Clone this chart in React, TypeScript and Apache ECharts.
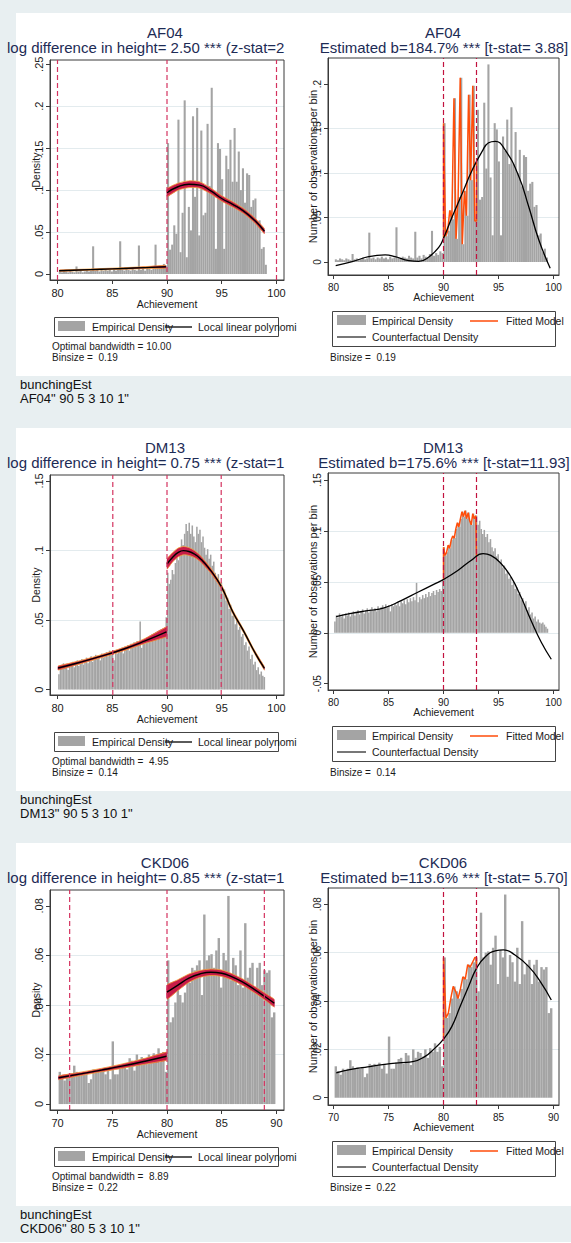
import React, { useEffect, useRef } from "react";
import * as echarts from "echarts";

// ---------------- Data ----------------
const PANEL_NAMES = ["AF04", "DM13", "CKD06"];
const LEFT_SUBTITLES = [
  "log difference in height= 2.50 *** (z-stat=2",
  "log difference in height= 0.75 *** (z-stat=1",
  "log difference in height= 0.85 *** (z-stat=1",
];
const RIGHT_SUBTITLES = [
  "Estimated b=184.7% *** [t-stat= 3.88]",
  "Estimated b=175.6% *** [t-stat=11.93]",
  "Estimated b=113.6% *** [t-stat= 5.70]",
];
const BANDWIDTH_NOTES = ["Optimal bandwidth = 10.00", "Optimal bandwidth =  4.95", "Optimal bandwidth =  8.89"];
const BINSIZE_NOTES = ["Binsize =  0.19", "Binsize =  0.14", "Binsize =  0.22"];
const COMMAND_LINES = ['AF04" 90 5 3 10 1"', 'DM13" 90 5 3 10 1"', 'CKD06" 80 5 3 10 1"'];

const X_TICKS_80 = [80, 85, 90, 95, 100];
const X_TICKS_70 = [70, 75, 80, 85, 90];
const Y_TICKS_AF04_L = [0, 0.05, 0.1, 0.15, 0.2, 0.25];
const Y_TICKS_AF04_R = [0, 0.05, 0.1, 0.15, 0.2];
const Y_TICKS_DM13_L = [0, 0.05, 0.1, 0.15];
const Y_TICKS_DM13_R = [-0.05, 0, 0.05, 0.1, 0.15];
const Y_TICKS_CKD06 = [0, 0.02, 0.04, 0.06, 0.08];

// AF04 histogram (bin width 0.19, first bin left edge 80.12)
const AF04_BIN_START = 80.12;
const AF04_BIN_WIDTH = 0.19;
const AF04_DENSITY = [
  0.003, 0.002, 0.004, 0.003, 0.002, 0.004, 0.003, 0.002, 0.009, 0.003,
  0.004, 0.002, 0.003, 0.005, 0.003, 0.004, 0.033, 0.004, 0.005, 0.003,
  0.005, 0.004, 0.006, 0.004, 0.005, 0.003, 0.006, 0.004, 0.005, 0.039,
  0.005, 0.004, 0.006, 0.005, 0.004, 0.007, 0.005, 0.004, 0.034, 0.005,
  0.007, 0.004, 0.008, 0.006, 0.005, 0.009, 0.035, 0.007, 0.010, 0.008,
  0.012, 0.010,
  0.156, 0.029, 0.035, 0.058, 0.048, 0.184, 0.026, 0.073, 0.207, 0.020,
  0.080, 0.052, 0.188, 0.092, 0.198, 0.046, 0.171, 0.070, 0.073, 0.179,
  0.105, 0.222, 0.095, 0.030, 0.156, 0.149, 0.113, 0.030, 0.141, 0.125,
  0.160, 0.110, 0.174, 0.110, 0.146, 0.100, 0.126, 0.085, 0.120, 0.118,
  0.080, 0.088, 0.090, 0.062, 0.064, 0.030, 0.032, 0.011, 0.015, 0.005,
];
// DM13 histogram (bin width 0.14, first bin left edge 80.06)
const DM13_BIN_START = 80.06;
const DM13_BIN_WIDTH = 0.14;
const DM13_DENSITY = [
  0.011, 0.017, 0.015, 0.019, 0.016, 0.018, 0.014, 0.019, 0.017, 0.020,
  0.016, 0.019, 0.021, 0.017, 0.020, 0.022, 0.018, 0.021, 0.023, 0.019,
  0.022, 0.024, 0.020, 0.023, 0.025, 0.022, 0.024, 0.021, 0.026, 0.023,
  0.025, 0.027, 0.024, 0.028, 0.025, 0.027, 0.021, 0.028, 0.026, 0.029,
  0.027, 0.030, 0.026, 0.031, 0.029, 0.032, 0.028, 0.033, 0.030, 0.034,
  0.031, 0.035, 0.032, 0.049, 0.030, 0.035, 0.033, 0.037, 0.034, 0.038,
  0.035, 0.040, 0.036, 0.039, 0.041, 0.037, 0.042, 0.040, 0.043, 0.041,
  0.052,
  0.084, 0.076, 0.079, 0.086, 0.083, 0.091, 0.095, 0.093, 0.102, 0.108,
  0.104, 0.112, 0.119, 0.114, 0.120, 0.112, 0.118, 0.110, 0.106, 0.117,
  0.112, 0.115, 0.106, 0.110, 0.102, 0.097, 0.101, 0.094, 0.097, 0.089,
  0.092, 0.084, 0.080, 0.083, 0.075, 0.077, 0.069, 0.072, 0.064, 0.066,
  0.058, 0.061, 0.053, 0.055, 0.047, 0.050, 0.043, 0.045, 0.038, 0.040,
  0.032, 0.034, 0.028, 0.031, 0.022, 0.025, 0.018, 0.020, 0.014, 0.016,
  0.011, 0.013, 0.010, 0.009, 0.010, 0.008, 0.006, 0.004,
];
// CKD06 histogram (bin width 0.22, first bin left edge 70.10)
const CKD06_BIN_START = 70.1;
const CKD06_BIN_WIDTH = 0.22;
const CKD06_DENSITY = [
  0.013, 0.011, 0.0095, 0.012, 0.011, 0.012, 0.0155, 0.013, 0.012, 0.0125,
  0.012, 0.0125, 0.0085, 0.010, 0.014, 0.0135, 0.014, 0.0135, 0.0145, 0.012,
  0.014, 0.010, 0.0253, 0.012, 0.012, 0.0145, 0.016, 0.0165, 0.014, 0.0185,
  0.0175, 0.0135, 0.020, 0.0165, 0.019, 0.0185, 0.017, 0.020, 0.0165, 0.0205,
  0.019, 0.0225, 0.019, 0.021, 0.013,
  0.058, 0.033, 0.035, 0.041, 0.046, 0.044, 0.041, 0.045, 0.050, 0.049,
  0.055, 0.054, 0.056, 0.058, 0.044, 0.0765, 0.058, 0.060, 0.0605, 0.055,
  0.062, 0.067, 0.047, 0.061, 0.058, 0.084, 0.050, 0.059, 0.056, 0.048,
  0.062, 0.047, 0.073, 0.051, 0.055, 0.057, 0.047, 0.055, 0.057, 0.048,
  0.054, 0.053, 0.054, 0.035, 0.037,
];

// Local linear fits (left panels): x, fitted value, half-width of the CI band
const AF04_FIT_LO_X = [80.15, 82, 84, 86, 88, 89.9];
const AF04_FIT_LO_Y = [0.0039, 0.0048, 0.0057, 0.0066, 0.0076, 0.0086];
const AF04_FIT_LO_HW = [0.0009, 0.0008, 0.0008, 0.0009, 0.0012, 0.0018];
const AF04_FIT_HI_X = [90, 91, 92, 93, 94, 95, 96, 97, 98, 98.9];
const AF04_FIT_HI_Y = [0.097, 0.104, 0.107, 0.106, 0.099, 0.09, 0.083, 0.075, 0.064, 0.051];
const AF04_FIT_HI_HW = [0.005, 0.0042, 0.004, 0.0038, 0.0035, 0.0033, 0.0032, 0.003, 0.003, 0.0032];

const DM13_FIT_LO_X = [80.05, 82, 84, 86, 88, 89.95];
const DM13_FIT_LO_Y = [0.0155, 0.0195, 0.024, 0.029, 0.035, 0.0415];
const DM13_FIT_LO_HW = [0.0015, 0.0012, 0.0011, 0.0012, 0.0018, 0.0036];
const DM13_FIT_HI_X = [90, 90.5, 91, 91.5, 92, 92.5, 93, 94, 95, 96, 97, 98, 98.9];
const DM13_FIT_HI_Y = [0.0903, 0.095, 0.0985, 0.0999, 0.0993, 0.0975, 0.0945, 0.0855, 0.0735, 0.056, 0.042, 0.027, 0.0152];
const DM13_FIT_HI_HW = [0.0038, 0.0034, 0.0032, 0.003, 0.0028, 0.0025, 0.0022, 0.0018, 0.0015, 0.0013, 0.0012, 0.0012, 0.0013];

const CKD06_FIT_LO_X = [70.1, 72, 74, 76, 78, 79.95];
const CKD06_FIT_LO_Y = [0.0106, 0.0121, 0.0137, 0.0154, 0.0173, 0.0193];
const CKD06_FIT_LO_HW = [0.0008, 0.0007, 0.0007, 0.0009, 0.0012, 0.0017];
const CKD06_FIT_HI_X = [80, 81, 82, 83, 84, 85, 86, 87, 88, 89, 89.8];
const CKD06_FIT_HI_Y = [0.0452, 0.048, 0.0508, 0.0525, 0.0532, 0.0528, 0.0512, 0.049, 0.0462, 0.0432, 0.0407];
const CKD06_FIT_HI_HW = [0.003, 0.0022, 0.0017, 0.0014, 0.0013, 0.0013, 0.0013, 0.0013, 0.0013, 0.0014, 0.0016];

// Counterfactual densities (right panels)
const AF04_CF_X = [80.2, 81.7, 83.2, 84.7, 85.6, 86.85, 87.75, 88.7, 89.6, 90.0, 90.8, 91.7, 92.6, 93.5, 94.1, 94.7, 95.6, 96.85, 97.75, 98.66, 99.7];
const AF04_CF_Y = [-0.004, 0.0004, 0.006, 0.0079, 0.006, 0.0015, 0.0008, 0.006, 0.017, 0.0266, 0.051, 0.077, 0.103, 0.124, 0.134, 0.1356, 0.126, 0.096, 0.062, 0.025, -0.007];
const DM13_CF_X = [80.24, 81.6, 83.1, 84.6, 86.15, 87.66, 89.2, 89.94, 91.3, 92.5, 93.6, 94.3, 95.25, 96.15, 97.06, 97.97, 98.9, 99.8];
const DM13_CF_Y = [0.0158, 0.019, 0.0217, 0.0244, 0.0316, 0.0398, 0.048, 0.052, 0.0612, 0.071, 0.0777, 0.076, 0.0678, 0.0546, 0.0348, 0.0118, -0.0096, -0.026];
const CKD06_CF_X = [70.25, 71.6, 73.1, 74.66, 76.2, 77.2, 78.3, 79.2, 79.98, 80.75, 81.5, 82.27, 83.0, 83.8, 84.7, 85.46, 86.5, 87.75, 88.8, 89.8];
const CKD06_CF_Y = [0.0103, 0.0117, 0.0128, 0.0138, 0.0145, 0.0149, 0.017, 0.0204, 0.0241, 0.0294, 0.0376, 0.0459, 0.0535, 0.0583, 0.0607, 0.0611, 0.059, 0.0542, 0.048, 0.0404];

// Bunching windows and counterfactual values at their edges
const AF04_WINDOW = [90, 93];
const AF04_WINDOW_CF = [0.0266, 0.112];
const DM13_WINDOW = [90, 93];
const DM13_WINDOW_CF = [0.052, 0.075];
const CKD06_WINDOW = [80, 83];
const CKD06_WINDOW_CF = [0.0241, 0.0535];

// Cut-off +/- bandwidth lines (left panels)
const AF04_BW_LINES = [80, 90, 100];
const DM13_BW_LINES = [85.05, 90, 94.95];
const CKD06_BW_LINES = [71.11, 80, 88.89];

// ---------------- Styles ----------------
const FONT = '"Liberation Sans", Arial, Helvetica, sans-serif';
const BAR = "#a4a4a4";
const BAND_FILL = "#c81c48";
const BAND_EDGE = "#f4a23a";
const DASH_L = "#d4325f";
const DASH_R = "#c2123e";
const ORANGE = "#ff4d0a";
const AXIS_C = "#3a3a3a";
const GRID_C = "#e3ebee";
const TITLE_C = "#1d2b55";
const TXT = "#1a1a1a";
const PAGE_BG = "#e8eff1";
const ROW_DY = 415;

const PANELS = [
  {
    binStart: AF04_BIN_START, binWidth: AF04_BIN_WIDTH, density: AF04_DENSITY, leftMaxX: 99.0,
    xTicks: X_TICKS_80, xL: [79.315, 100.685], xR: [79.5, 100.5],
    yL: [-0.00715, 0.2551], yR: [-0.0146, 0.2292], yTicksL: Y_TICKS_AF04_L, yTicksR: Y_TICKS_AF04_R, stepL: 0.05, stepR: 0.05,
    bwLines: AF04_BW_LINES, window: AF04_WINDOW, windowCf: AF04_WINDOW_CF,
    cfX: AF04_CF_X, cfY: AF04_CF_Y,
    fits: [[AF04_FIT_LO_X, AF04_FIT_LO_Y, AF04_FIT_LO_HW], [AF04_FIT_HI_X, AF04_FIT_HI_Y, AF04_FIT_HI_HW]],
  },
  {
    binStart: DM13_BIN_START, binWidth: DM13_BIN_WIDTH, density: DM13_DENSITY, leftMaxX: 98.9,
    xTicks: X_TICKS_80, xL: [79.315, 100.685], xR: [79.5, 100.5],
    yL: [-0.0039, 0.1543], yR: [-0.0562, 0.1569], yTicksL: Y_TICKS_DM13_L, yTicksR: Y_TICKS_DM13_R, stepL: 0.05, stepR: 0.05,
    bwLines: DM13_BW_LINES, window: DM13_WINDOW, windowCf: DM13_WINDOW_CF,
    cfX: DM13_CF_X, cfY: DM13_CF_Y,
    fits: [[DM13_FIT_LO_X, DM13_FIT_LO_Y, DM13_FIT_LO_HW], [DM13_FIT_HI_X, DM13_FIT_HI_Y, DM13_FIT_HI_HW]],
  },
  {
    binStart: CKD06_BIN_START, binWidth: CKD06_BIN_WIDTH, density: CKD06_DENSITY, leftMaxX: 90.0,
    xTicks: X_TICKS_70, xL: [69.315, 90.685], xR: [69.5, 90.5],
    yL: [-0.0024, 0.0864], yR: [-0.003, 0.0867], yTicksL: Y_TICKS_CKD06, yTicksR: Y_TICKS_CKD06, stepL: 0.02, stepR: 0.02,
    bwLines: CKD06_BW_LINES, window: CKD06_WINDOW, windowCf: CKD06_WINDOW_CF,
    cfX: CKD06_CF_X, cfY: CKD06_CF_Y,
    fits: [[CKD06_FIT_LO_X, CKD06_FIT_LO_Y, CKD06_FIT_LO_HW], [CKD06_FIT_HI_X, CKD06_FIT_HI_Y, CKD06_FIT_HI_HW]],
  },
];

function fmtTick(v: number): string {
  const s = String(Math.round(v * 1e6) / 1e6);
  return s.replace(/^(-?)0\./, "$1.");
}

function buildOption() {
  const grids: any[] = [];
  const xAxes: any[] = [];
  const yAxes: any[] = [];
  const series: any[] = [];
  const graphic: any[] = [];

  const txt = (x: number, y: number, text: string, size: number, color = TXT, align = "left", extra: any = {}) => ({
    type: "text", z: 50, silent: true,
    style: {
      x, y, text, fill: color, fontSize: size, fontFamily: FONT,
      textAlign: align, textVerticalAlign: "middle", align, verticalAlign: "middle", ...extra,
    },
  });
  const rect = (x: number, y: number, w: number, h: number, fill: string, stroke?: string, z = 40) => ({
    type: "rect", z, silent: true, shape: { x, y, width: w, height: h },
    style: { fill, stroke: stroke || null, lineWidth: stroke ? 1 : 0 },
  });
  const seg = (x1: number, y1: number, x2: number, y2: number, color: string, w = 1.4) => ({
    type: "line", z: 45, silent: true, shape: { x1, y1, x2, y2 }, style: { stroke: color, lineWidth: w },
  });

  const addAxes = (gi: number, p: any, side: "L" | "R") => {
    const isL = side === "L";
    const tickFont = isL ? 11 : 10;
    const xr = isL ? p.xL : p.xR;
    const yr = isL ? p.yL : p.yR;
    const yTicks = isL ? p.yTicksL : p.yTicksR;
    const step = isL ? p.stepL : p.stepR;
    xAxes.push({
      gridIndex: gi, type: "value", min: xr[0], max: xr[1], minInterval: 5, maxInterval: 5,
      axisLine: { show: true, onZero: false, lineStyle: { color: AXIS_C, width: 1 } },
      axisTick: { show: true, length: 4, customValues: p.xTicks, lineStyle: { color: AXIS_C } },
      axisLabel: { customValues: p.xTicks, fontSize: tickFont, color: TXT, margin: 7, fontFamily: FONT },
      splitLine: { show: false },
      name: "Achievement", nameLocation: "middle", nameGap: isL ? 18.5 : 16.5, nameMoveOverlap: false,
      nameTextStyle: { fontSize: 10.5, color: TXT, fontFamily: FONT },
    });
    yAxes.push({
      gridIndex: gi, type: "value", min: yr[0], max: yr[1], minInterval: step, maxInterval: step,
      axisLine: { show: true, onZero: false, lineStyle: { color: AXIS_C, width: 1 } },
      axisTick: { show: true, length: 4, customValues: yTicks, lineStyle: { color: AXIS_C } },
      axisLabel: { customValues: yTicks, rotate: 90, formatter: fmtTick, fontSize: tickFont, color: TXT, margin: 6, fontFamily: FONT },
      splitLine: { show: true, showMinLine: false, showMaxLine: false, lineStyle: { color: GRID_C, width: 1 } },
      name: isL ? "Density" : "Number of observations per bin", nameLocation: "middle", nameGap: isL ? 9 : 10,
      nameMoveOverlap: false,
      nameTextStyle: { fontSize: isL ? 10.5 : 11, color: TXT, fontFamily: FONT },
    });
  };

  const histSeries = (gi: number, p: any, maxX: number) => {
    const bw = p.binWidth;
    const data = p.density
      .map((v: number, i: number) => [p.binStart + i * bw, v])
      .filter((d: number[]) => d[0] < maxX - 1e-9);
    return {
      type: "custom", xAxisIndex: gi, yAxisIndex: gi, silent: true, z: 2,
      encode: { x: 0, y: 1 }, data,
      renderItem: (_params: any, api: any) => {
        const x0 = api.value(0);
        const h = api.value(1);
        const a = api.coord([x0, 0]);
        const b = api.coord([x0 + bw, h]);
        return {
          type: "rect",
          shape: { x: a[0], y: b[1], width: b[0] - a[0], height: a[1] - b[1] },
          style: { fill: BAR },
        };
      },
    };
  };

  // confidence band of the local linear fit, as one polygon through the axis scales
  const bandSeries = (gi: number, xs: number[], ys: number[], hw: number[]) => ({
    type: "custom", xAxisIndex: gi, yAxisIndex: gi, silent: true, z: 3,
    encode: { x: 0, y: [1, 2] },
    data: xs.map((x, i) => [x, ys[i] - hw[i], ys[i] + hw[i]]),
    renderItem: (params: any, api: any) => {
      if (params.dataIndexInside !== 0) return null;
      const n = params.dataInsideLength;
      const up: number[][] = [];
      const lo: number[][] = [];
      for (let i = 0; i < n; i++) {
        const x = api.value(0, i);
        up.push(api.coord([x, api.value(2, i)]));
        lo.push(api.coord([x, api.value(1, i)]));
      }
      const poly = up.concat(lo.slice().reverse());
      return {
        type: "group",
        children: [
          { type: "polygon", shape: { points: poly, smooth: 0.15 }, style: { fill: BAND_FILL, stroke: "none" } },
          { type: "polyline", shape: { points: up, smooth: 0.3 }, style: { fill: "none", stroke: BAND_EDGE, lineWidth: 0.8 } },
          { type: "polyline", shape: { points: lo, smooth: 0.3 }, style: { fill: "none", stroke: BAND_EDGE, lineWidth: 0.8 } },
        ],
      };
    },
  });

  const vline = (gi: number, x: number, yr: number[], color: string) => ({
    type: "line", xAxisIndex: gi, yAxisIndex: gi, silent: true, z: 6,
    data: [[x, yr[0]], [x, yr[1]]], symbol: "none",
    lineStyle: { color, width: 1.2, type: [5, 3] },
  });

  PANELS.forEach((p, r) => {
    const dy = r * ROW_DY;
    const li = 2 * r;
    const ri = 2 * r + 1;

    graphic.push(rect(16, 13 + dy, 555, 363, "#ffffff", undefined, -1));

    grids.push({ left: 50, top: 60 + dy, width: 234, height: 220, show: true, borderColor: AXIS_C, borderWidth: 1, backgroundColor: "transparent", z: 1 });
    grids.push({ left: 328, top: 58 + dy, width: 231, height: 217, show: true, borderColor: AXIS_C, borderWidth: 1, backgroundColor: "transparent", z: 1 });
    addAxes(li, p, "L");
    addAxes(ri, p, "R");

    // ---- left panel ----
    series.push(histSeries(li, p, p.leftMaxX));
    p.fits.forEach((f: number[][]) => {
      const [xs, ys, hw] = f;
      series.push(bandSeries(li, xs, ys, hw));
      series.push({
        type: "line", xAxisIndex: li, yAxisIndex: li, silent: true, z: 4, smooth: true, symbol: "none",
        data: xs.map((x, i) => [x, ys[i]]),
        lineStyle: { color: "#000000", width: 1.4 },
      });
    });
    p.bwLines.forEach((x: number) => series.push(vline(li, x, p.yL, DASH_L)));

    // ---- right panel ----
    series.push(histSeries(ri, p, 1e9));
    p.window.forEach((x: number) => series.push(vline(ri, x, p.yR, DASH_R)));
    const fitted: number[][] = [[p.window[0], p.windowCf[0]]];
    let lastH = 0;
    p.density.forEach((v: number, i: number) => {
      const x = p.binStart + i * p.binWidth;
      if (x >= p.window[0] - 1e-9 && x < p.window[1] - 1e-9) {
        fitted.push([x, v]);
        lastH = v;
      }
    });
    fitted.push([p.window[1], lastH]);
    fitted.push([p.window[1], p.windowCf[1]]);
    series.push({
      type: "line", xAxisIndex: ri, yAxisIndex: ri, silent: true, z: 4, symbol: "none",
      data: fitted, lineStyle: { color: ORANGE, width: 1.5 },
    });
    series.push({
      type: "line", xAxisIndex: ri, yAxisIndex: ri, silent: true, z: 5, symbol: "none", smooth: true,
      data: p.cfX.map((x: number, i: number) => [x, p.cfY[i]]),
      lineStyle: { color: "#000000", width: 1.3 },
    });

    // ---- titles ----
    graphic.push(txt(165, 32 + dy, PANEL_NAMES[r], 15, TITLE_C, "center"));
    graphic.push(txt(7, 47 + dy, LEFT_SUBTITLES[r], 15, TITLE_C, "left"));
    graphic.push(txt(443, 32 + dy, PANEL_NAMES[r], 15, TITLE_C, "center"));
    graphic.push(txt(444, 47 + dy, RIGHT_SUBTITLES[r], 15, TITLE_C, "center"));

    // ---- left legend & notes ----
    graphic.push(rect(54.5, 317.5 + dy, 224, 19, "#ffffff", "#444444"));
    graphic.push(rect(58, 321 + dy, 27, 10, BAR));
    graphic.push(txt(92, 327 + dy, "Empirical Density", 10.5));
    graphic.push(seg(165, 327 + dy, 192, 327 + dy, "#000000", 1.3));
    graphic.push(txt(198, 327 + dy, "Local linear polynomi", 10.5));
    graphic.push(txt(52, 351.5 + dy, BANDWIDTH_NOTES[r] + "\n" + BINSIZE_NOTES[r], 10, TXT, "left", { lineHeight: 11 }));

    // ---- right legend & notes ----
    graphic.push(rect(332.5, 311.5 + dy, 223, 35, "#ffffff", "#444444"));
    graphic.push(rect(337, 315 + dy, 29, 10, BAR));
    graphic.push(txt(372, 321 + dy, "Empirical Density", 10.5));
    graphic.push(seg(470, 321 + dy, 498, 321 + dy, ORANGE, 1.5));
    graphic.push(txt(506, 321 + dy, "Fitted Model", 10.5));
    graphic.push(seg(337, 337 + dy, 366, 337 + dy, "#4a4a4a", 1.5));
    graphic.push(txt(372, 337 + dy, "Counterfactual Density", 10.5));
    graphic.push(txt(330, 357 + dy, BINSIZE_NOTES[r], 10));

    // ---- command echo ----
    graphic.push(txt(20, 384.5 + dy, "bunchingEst", 13, "#111111"));
    graphic.push(txt(20, 398.5 + dy, COMMAND_LINES[r], 13, "#111111"));
  });
  graphic.push(rect(0, 1242, 571, 1, "#ffffff", undefined, -1));

  return {
    animation: false,
    backgroundColor: PAGE_BG,
    textStyle: { fontFamily: FONT },
    grid: grids,
    xAxis: xAxes,
    yAxis: yAxes,
    series,
    graphic: { elements: graphic },
  };
}

export default function App() {
  const ref = useRef<HTMLDivElement>(null);
  useEffect(() => {
    if (!ref.current) return;
    const chart = echarts.init(ref.current, null, { renderer: "svg" });
    chart.setOption(buildOption() as any);
    return () => chart.dispose();
  }, []);
  return (
    <div
      ref={ref}
      style={{ position: "absolute", left: 0, top: 0, width: 571, height: 1243 }}
    />
  );
}
